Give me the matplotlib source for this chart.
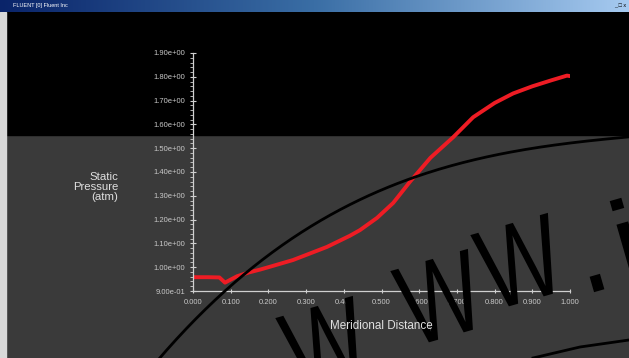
import numpy as np
import matplotlib.pyplot as plt
from matplotlib.colors import LinearSegmentedColormap
from matplotlib.patches import Rectangle, PathPatch
from matplotlib.textpath import TextPath
from matplotlib.font_manager import FontProperties
from matplotlib.transforms import Affine2D
from matplotlib.ticker import MultipleLocator, FuncFormatter

# Static pressure along the meridional distance
distance = [0.0, 0.04, 0.07, 0.085, 0.1, 0.117, 0.146, 0.178, 0.2, 0.265, 0.355,
            0.416, 0.443, 0.488, 0.531, 0.576, 0.63, 0.69, 0.743, 0.8,
            0.849, 0.9, 0.95, 0.992, 1.0]
pressure = [0.958, 0.958, 0.957, 0.935, 0.948, 0.962, 0.977, 0.99, 1.0, 1.03, 1.085,
            1.132, 1.156, 1.207, 1.27, 1.36, 1.46, 1.546, 1.63, 1.69,
            1.73, 1.76, 1.785, 1.805, 1.803]

W, H = 629, 358
fig = plt.figure(figsize=(W / 100, H / 100), dpi=100)
fig.patch.set_facecolor('#3a3a3a')
plt.rcParams['font.family'] = ['Liberation Sans', 'DejaVu Sans']

def px(x0, y0, w, h):
    # rectangle in pixel units, origin at top-left
    return (x0 / W, 1 - (y0 + h) / H), w / W, h / H

# window frame: title bar, black upper part, left border
grad = np.linspace(0, 1, 256).reshape(1, -1)
bar = fig.add_axes([0, 1 - 12 / H, 1, 12 / H])
bar.imshow(grad, aspect='auto',
           cmap=LinearSegmentedColormap.from_list('tb', ['#0a246a', '#3a6ea5', '#a6caf0']))
bar.set_axis_off()
bar.text(0.02, 0.5, 'FLUENT [0] Fluent Inc', color='white', fontsize=4,
         va='center', transform=bar.transAxes)
bar.text(0.995, 0.5, '_ \u25a1 x', color='black', fontsize=4, ha='right',
         va='center', transform=bar.transAxes)

xy, w, h = px(0, 12, W, 123)
fig.patches.append(Rectangle(xy, w, h, transform=fig.transFigure, color='black', zorder=-10))
xy, w, h = px(0, 12, 6, H - 12)
fig.patches.append(Rectangle(xy, w, h, transform=fig.transFigure, color='#d8d8d8', zorder=-10))

ax = fig.add_axes([193 / W, 67 / H, 377 / W, 238 / H])
ax.set_facecolor('none')
ax.plot(distance, pressure, color='#ee1c24', lw=2.8, solid_capstyle='round')
ax.set_xlim(0, 1.0)
ax.set_ylim(0.9, 1.9)

for s in ['top', 'right']:
    ax.spines[s].set_visible(False)
for s in ['left', 'bottom']:
    ax.spines[s].set_color('#d0d0d0')
    ax.spines[s].set_linewidth(0.9)

ax.xaxis.set_major_locator(MultipleLocator(0.1))
ax.yaxis.set_major_locator(MultipleLocator(0.1))
ax.yaxis.set_minor_locator(MultipleLocator(0.02))
ax.xaxis.set_major_formatter(FuncFormatter(lambda v, p: f'{v:.3f}'))
ax.yaxis.set_major_formatter(FuncFormatter(lambda v, p: f'{v:.2e}'))
ax.tick_params(axis='y', which='major', colors='#d0d0d0', labelcolor='#c8c8c8',
               labelsize=5.5, direction='inout', length=5, width=0.8, pad=3)
ax.tick_params(axis='x', which='major', colors='#d0d0d0', labelcolor='#c8c8c8',
               labelsize=5.5, direction='inout', length=3, width=0.8, pad=4)
ax.tick_params(axis='y', which='minor', colors='#d0d0d0', direction='out',
               length=2.5, width=0.6)

fig.text(118 / W, 1 - 187 / H, 'Static\nPressure\n(atm)', color='#e0e0e0',
         fontsize=8.2, ha='right', va='center', linespacing=0.95)
fig.text(381 / W, 1 - 326 / H, 'Meridional Distance', color='#e0e0e0',
         fontsize=8.4, ha='center', va='center')

# watermark: arcs and slanted letters, in pixel coordinates (y up)
over = fig.add_axes([0, 0, 1, 1])
over.set_xlim(0, W)
over.set_ylim(0, H)
over.set_axis_off()
over.set_facecolor('none')
arc_x = [160, 230, 250, 317, 380, 447, 547, 629]
arc_y = [358, 287, 268, 223, 192, 166, 146, 137]
coef = np.polyfit(arc_x, arc_y, 3)
xs = np.linspace(150, 629, 200)
over.plot(xs, H - np.polyval(coef, xs), color='black', lw=2.0)
over.plot([533, 580, 629], [H - 358, H - 347, H - 340], color='black', lw=2.0)

fp = FontProperties(family='Liberation Sans')

def glyph(ch, cx, cy, size=115, sx=0.75, angle=16):
    tp = TextPath((0, 0), ch, size=size, prop=fp)
    ext = tp.get_extents()
    tr = (Affine2D().translate(-(ext.x0 + ext.x1) / 2, -(ext.y0 + ext.y1) / 2)
          .scale(sx, 1).rotate_deg(angle).translate(cx, H - cy))
    over.add_patch(PathPatch(tr.transform_path(tp), fc='black', ec='none'))

glyph('W', 325, 345)
glyph('W', 440, 298)
glyph('W', 520, 262)
glyph('.', 597, 283, size=150)
glyph('i', 628, 243, size=125, sx=1.1)

fig.savefig('out.png', dpi=100, facecolor=fig.get_facecolor())
